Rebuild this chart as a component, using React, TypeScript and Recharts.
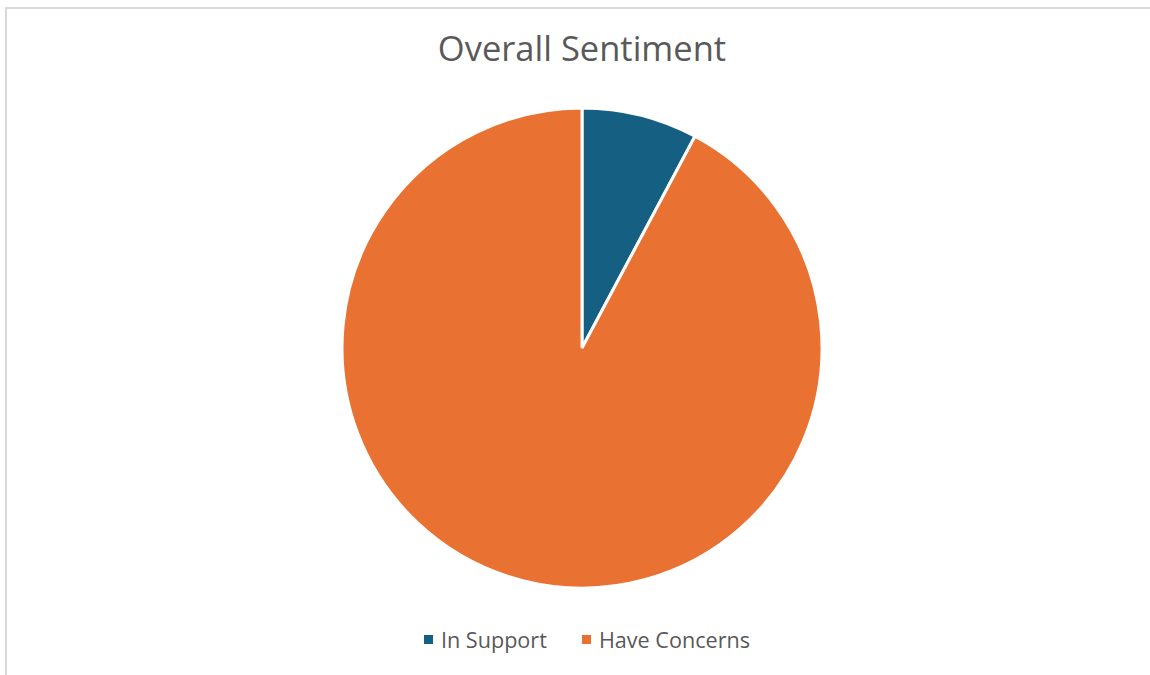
import { PieChart, Pie, Cell } from "recharts"

const categories = ["In Support", "Have Concerns"]
const shares = [7.8, 92.2]
const colors = ["#156082", "#E97132"]

const data = categories.map((name, i) => ({ name, value: shares[i] }))

function SentimentLegend() {
  return (
    <div style={{ display: "flex", justifyContent: "center", gap: 35, fontFamily: "'Open Sans', sans-serif", fontSize: 21.6, color: "#595959" }}>
      {categories.map((name, i) => (
        <div key={name} style={{ display: "flex", alignItems: "center" }}>
          <span style={{ width: 9, height: 9, background: colors[i], marginRight: 8, display: "inline-block" }} />
          <span>{name}</span>
        </div>
      ))}
    </div>
  )
}

export default function App() {
  return (
    <div style={{ position: "relative", width: 1150, height: 675, overflow: "hidden", background: "#fff" }}>
      <style>{"body{margin:0;overflow:hidden}"}</style>
      <div style={{ position: "absolute", left: 5, top: 7, width: 1200, height: 700, borderTop: "2px solid #dadada", borderLeft: "2px solid #dadada" }} />
      <div style={{ position: "absolute", left: 0, top: 0 }}>
        <PieChart width={1150} height={675} margin={{ top: 0, right: 0, bottom: 0, left: 0 }}>
          <Pie
            data={data}
            dataKey="value"
            nameKey="name"
            cx={582}
            cy={348}
            outerRadius={240}
            startAngle={90}
            endAngle={-270}
            stroke="#ffffff"
            strokeWidth={3}
            isAnimationActive={false}
          >
            {data.map((d, i) => (
              <Cell key={d.name} fill={colors[i]} />
            ))}
          </Pie>
        </PieChart>
      </div>
      <div style={{ position: "absolute", left: 0, top: 24, width: 1164, textAlign: "center", fontFamily: "'Open Sans', sans-serif", fontSize: 34.5, color: "#595959" }}>
        Overall Sentiment
      </div>
      <div style={{ position: "absolute", left: 0, top: 625, width: 1174 }}>
        <SentimentLegend />
      </div>
    </div>
  )
}
